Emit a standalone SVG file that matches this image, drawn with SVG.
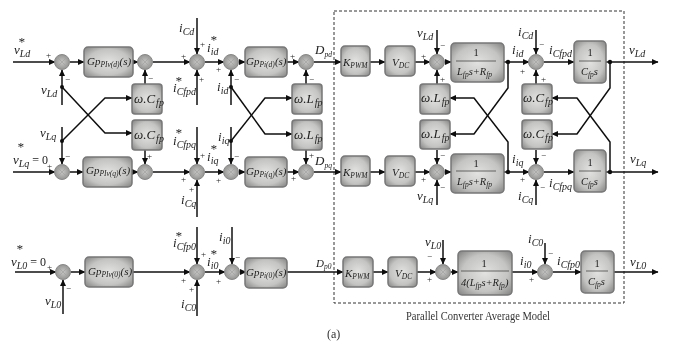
<svg xmlns="http://www.w3.org/2000/svg" width="673" height="341" viewBox="0 0 673 341">
<defs>
<radialGradient id="bg" cx="50%" cy="50%" r="70%"><stop offset="0" stop-color="#e2e2e0"/><stop offset="0.6" stop-color="#c4c4c2"/><stop offset="1" stop-color="#808080"/></radialGradient>
<radialGradient id="jg" cx="50%" cy="50%" r="60%"><stop offset="0" stop-color="#c8c8c6"/><stop offset="1" stop-color="#8a8a88"/></radialGradient>
<marker id="a" markerUnits="userSpaceOnUse" markerWidth="7" markerHeight="7" refX="6" refY="3.5" orient="auto"><path d="M0 0.5L6.5 3.5L0 6.5Z" fill="#111"/></marker>
<filter id="soft" x="-5%" y="-5%" width="110%" height="110%"><feGaussianBlur stdDeviation="0.35"/></filter>
</defs>
<style>
.b{fill:url(#bg);stroke:#777;stroke-width:1.5}
.j{fill:url(#jg);stroke:#888;stroke-width:1}
.x{stroke:#a0a0a0;stroke-width:.7;fill:none}
.c{fill:none;stroke:#111;stroke-width:1.5}
.fr{fill:none;stroke:#333;stroke-width:.7}
.ar{marker-end:url(#a)}
.d{fill:#111}
.r{stroke:#333;stroke-width:1;stroke-dasharray:3 2;fill:none}
text{font-family:"Liberation Serif",serif;fill:#222}
.t{font-size:13px;font-style:italic}
.u{font-size:10px;font-style:italic}
.g{font-size:11px;font-style:italic}
.h{font-size:7.5px;font-style:italic}
.p{font-size:9px}
.l{font-size:12px;fill:#333}
.f{font-size:10.5px;font-style:italic}
.n{font-style:normal}
.m{text-anchor:middle}
</style>
<rect width="673" height="341" fill="#fff"/>
<g filter="url(#soft)">
<rect class="r" x="334" y="11" width="290" height="292"/>
<g id="connectors">
<path class="c ar" d="M13 62H55"/><path class="c ar" d="M70 62H84"/><path class="c ar" d="M133 62H138"/><path class="c ar" d="M153 62H190"/><path class="c ar" d="M205 62H224"/><path class="c ar" d="M239 62H245"/><path class="c ar" d="M287 62H299"/><path class="c ar" d="M314 62H341"/><path class="c ar" d="M370 62H385"/><path class="c ar" d="M415 62H430"/><path class="c ar" d="M445 62H451"/><path class="c ar" d="M504 62H529"/><path class="c ar" d="M544 62H574"/><path class="c ar" d="M606 62H658"/>
<path class="c ar" d="M13 172H55"/><path class="c ar" d="M70 172H83"/><path class="c ar" d="M132 172H138"/><path class="c ar" d="M153 172H190"/><path class="c ar" d="M205 172H224"/><path class="c ar" d="M239 172H245"/><path class="c ar" d="M287 172H299"/><path class="c ar" d="M314 172H341"/><path class="c ar" d="M370 172H385"/><path class="c ar" d="M415 172H430"/><path class="c ar" d="M445 172H451"/><path class="c ar" d="M504 172H529"/><path class="c ar" d="M544 172H574"/><path class="c ar" d="M606 172H658"/>
<path class="c ar" d="M15 272H56"/><path class="c ar" d="M71 272H85"/><path class="c ar" d="M133 272H190"/><path class="c ar" d="M205 272H225"/><path class="c ar" d="M240 272H246"/><path class="c ar" d="M287 272H343"/><path class="c ar" d="M373 272H388"/><path class="c ar" d="M417 272H436"/><path class="c ar" d="M451 272H458"/><path class="c ar" d="M512 272H538"/><path class="c ar" d="M553 272H581"/><path class="c ar" d="M614 272H658"/>
<path class="c ar" d="M62 105V70"/><path class="c ar" d="M62 127V164"/><path class="c ar" d="M145 84V70"/><path class="c ar" d="M145 150V164"/>
<path class="c ar" d="M197 18V54"/><path class="c ar" d="M197 105V70"/><path class="c ar" d="M197 127V164"/><path class="c ar" d="M197 217V180"/>
<path class="c ar" d="M231 105V70"/><path class="c ar" d="M231 127V164"/><path class="c ar" d="M306 84V70"/><path class="c ar" d="M306 150V164"/>
<path class="c ar" d="M437 30V54"/><path class="c ar" d="M437 84V70"/><path class="c ar" d="M437 150V164"/><path class="c ar" d="M437 205V180"/>
<path class="c ar" d="M536 30V54"/><path class="c ar" d="M536 84V70"/><path class="c ar" d="M536 150V164"/><path class="c ar" d="M536 205V180"/>
<path class="c ar" d="M62 87L105 133H132"/><path class="c ar" d="M62 141L105 98H132"/>
<path class="c ar" d="M231 87L265 134H292"/><path class="c ar" d="M231 141L265 98H292"/>
<path class="c ar" d="M508 62V88L474 134H450"/><path class="c ar" d="M508 172V142L474 98H450"/>
<path class="c ar" d="M610 62V88L577 134H552"/><path class="c ar" d="M610 172V142L577 98H552"/>
<path class="c ar" d="M63 314V280"/><path class="c ar" d="M197 227V264"/><path class="c ar" d="M197 316V280"/><path class="c ar" d="M232 227V264"/><path class="c ar" d="M443 240V264"/><path class="c ar" d="M545 243V264"/>
<circle class="d" cx="62" cy="87" r="2"/><circle class="d" cx="62" cy="141" r="2"/><circle class="d" cx="231" cy="87" r="2"/><circle class="d" cx="231" cy="141" r="2"/><circle class="d" cx="508" cy="62" r="2.2"/><circle class="d" cx="508" cy="172" r="2.2"/><circle class="d" cx="610" cy="62" r="2.2"/><circle class="d" cx="610" cy="172" r="2.2"/>
</g>
<g id="sum-d1"><circle class="j" cx="62" cy="62" r="7.5"/><path class="x" d="M57 57L67 67M67 57L57 67"/></g>
<g id="sum-d2"><circle class="j" cx="145" cy="62" r="7.5"/><path class="x" d="M140 57L150 67M150 57L140 67"/></g>
<g id="sum-d3"><circle class="j" cx="197" cy="62" r="7.5"/><path class="x" d="M192 57L202 67M202 57L192 67"/></g>
<g id="sum-d4"><circle class="j" cx="231" cy="62" r="7.5"/><path class="x" d="M226 57L236 67M236 57L226 67"/></g>
<g id="sum-d5"><circle class="j" cx="306" cy="62" r="7.5"/><path class="x" d="M301 57L311 67M311 57L301 67"/></g>
<g id="sum-d6"><circle class="j" cx="437" cy="62" r="7.5"/><path class="x" d="M432 57L442 67M442 57L432 67"/></g>
<g id="sum-d7"><circle class="j" cx="536" cy="62" r="7.5"/><path class="x" d="M531 57L541 67M541 57L531 67"/></g>
<g id="sum-q1"><circle class="j" cx="62" cy="172" r="7.5"/><path class="x" d="M57 167L67 177M67 167L57 177"/></g>
<g id="sum-q2"><circle class="j" cx="145" cy="172" r="7.5"/><path class="x" d="M140 167L150 177M150 167L140 177"/></g>
<g id="sum-q3"><circle class="j" cx="197" cy="172" r="7.5"/><path class="x" d="M192 167L202 177M202 167L192 177"/></g>
<g id="sum-q4"><circle class="j" cx="231" cy="172" r="7.5"/><path class="x" d="M226 167L236 177M236 167L226 177"/></g>
<g id="sum-q5"><circle class="j" cx="306" cy="172" r="7.5"/><path class="x" d="M301 167L311 177M311 167L301 177"/></g>
<g id="sum-q6"><circle class="j" cx="437" cy="172" r="7.5"/><path class="x" d="M432 167L442 177M442 167L432 177"/></g>
<g id="sum-q7"><circle class="j" cx="536" cy="172" r="7.5"/><path class="x" d="M531 167L541 177M541 167L531 177"/></g>
<g id="sum-01"><circle class="j" cx="63" cy="272" r="7.5"/><path class="x" d="M58 267L68 277M68 267L58 277"/></g>
<g id="sum-02"><circle class="j" cx="197" cy="272" r="7.5"/><path class="x" d="M192 267L202 277M202 267L192 277"/></g>
<g id="sum-03"><circle class="j" cx="232" cy="272" r="7.5"/><path class="x" d="M227 267L237 277M237 267L227 277"/></g>
<g id="sum-04"><circle class="j" cx="443" cy="272" r="7.5"/><path class="x" d="M438 267L448 277M448 267L438 277"/></g>
<g id="sum-05"><circle class="j" cx="545" cy="272" r="7.5"/><path class="x" d="M540 267L550 277M550 267L540 277"/></g>

<g id="gpv-d"><rect class="b" x="84" y="47" width="49" height="30" rx="4"/><text class="g" x="87" y="65">Gp<tspan class="h" dy="2">PIv(d)</tspan><tspan dy="-2">(s)</tspan></text></g>
<g id="gpi-d"><rect class="b" x="245" y="47" width="42" height="30" rx="4"/><text class="g" x="246" y="65">Gp<tspan class="h" dy="2">Pi(d)</tspan><tspan dy="-2">(s)</tspan></text></g>
<g id="gpv-q"><rect class="b" x="83" y="157" width="49" height="30" rx="4"/><text class="g" x="86" y="174">Gp<tspan class="h" dy="2">PIv(q)</tspan><tspan dy="-2">(s)</tspan></text></g>
<g id="gpi-q"><rect class="b" x="245" y="157" width="42" height="30" rx="4"/><text class="g" x="246" y="175">Gp<tspan class="h" dy="2">Pi(q)</tspan><tspan dy="-2">(s)</tspan></text></g>
<g id="gpv-0"><rect class="b" x="85" y="257" width="48" height="30" rx="4"/><text class="g" x="88" y="275">Gp<tspan class="h" dy="2">PIv(0)</tspan><tspan dy="-2">(s)</tspan></text></g>
<g id="gpi-0"><rect class="b" x="245" y="258" width="42" height="30" rx="4"/><text class="g" x="246" y="276">Gp<tspan class="h" dy="2">Pi(0)</tspan><tspan dy="-2">(s)</tspan></text></g>

<g id="wc-1"><rect class="b" x="132" y="84" width="30" height="30" rx="3"/><text class="t" x="134" y="103">ω.C<tspan class="u" dx="1" dy="3">fp</tspan></text></g>
<g id="wc-2"><rect class="b" x="132" y="120" width="30" height="30" rx="3"/><text class="t" x="134" y="139">ω.C<tspan class="u" dx="1" dy="3">fp</tspan></text></g>
<g id="wl-1"><rect class="b" x="292" y="84" width="30" height="30" rx="3"/><text class="t" x="294" y="103">ω.L<tspan class="u" dx="1" dy="3">fp</tspan></text></g>
<g id="wl-2"><rect class="b" x="292" y="120" width="30" height="30" rx="3"/><text class="t" x="294" y="139">ω.L<tspan class="u" dx="1" dy="3">fp</tspan></text></g>
<g id="wl-3"><rect class="b" x="420" y="84" width="30" height="30" rx="3"/><text class="t" x="421" y="102">ω.L<tspan class="u" dx="1" dy="3">fp</tspan></text></g>
<g id="wl-4"><rect class="b" x="420" y="120" width="30" height="29" rx="3"/><text class="t" x="421" y="138">ω.L<tspan class="u" dx="1" dy="3">fp</tspan></text></g>
<g id="wc-3"><rect class="b" x="522" y="84" width="30" height="30" rx="3"/><text class="t" x="523" y="102">ω.C<tspan class="u" dx="1" dy="3">fp</tspan></text></g>
<g id="wc-4"><rect class="b" x="522" y="120" width="30" height="29" rx="3"/><text class="t" x="523" y="138">ω.C<tspan class="u" dx="1" dy="3">fp</tspan></text></g>

<g id="kpwm-d"><rect class="b" x="341" y="46" width="29" height="30" rx="4"/><text class="g" x="343" y="66">K<tspan class="h" dy="2">PWM</tspan></text></g>
<g id="kpwm-q"><rect class="b" x="341" y="156" width="29" height="30" rx="4"/><text class="g" x="343" y="176">K<tspan class="h" dy="2">PWM</tspan></text></g>
<g id="kpwm-0"><rect class="b" x="343" y="257" width="30" height="30" rx="4"/><text class="g" x="345" y="277">K<tspan class="h" dy="2">PWM</tspan></text></g>
<g id="vdc-d"><rect class="b" x="385" y="46" width="30" height="30" rx="4"/><text class="g" x="392" y="66">V<tspan class="h" dy="2">DC</tspan></text></g>
<g id="vdc-q"><rect class="b" x="385" y="156" width="30" height="30" rx="4"/><text class="g" x="392" y="176">V<tspan class="h" dy="2">DC</tspan></text></g>
<g id="vdc-0"><rect class="b" x="388" y="257" width="29" height="30" rx="4"/><text class="g" x="395" y="277">V<tspan class="h" dy="2">DC</tspan></text></g>

<g id="plant-d"><rect class="b" x="451" y="43" width="53" height="39" rx="4"/><path class="fr" d="M456 61H496"/><text class="f m n" x="476" y="56">1</text><text class="f" x="457" y="75">L<tspan class="h" dy="2">fp</tspan><tspan dy="-2">s+R</tspan><tspan class="h" dy="2">fp</tspan></text></g>
<g id="plant-q"><rect class="b" x="451" y="154" width="53" height="39" rx="4"/><path class="fr" d="M456 171H496"/><text class="f m n" x="476" y="167">1</text><text class="f" x="457" y="185">L<tspan class="h" dy="2">fp</tspan><tspan dy="-2">s+R</tspan><tspan class="h" dy="2">fp</tspan></text></g>
<g id="plant-0"><rect class="b" x="458" y="251" width="54" height="44" rx="4"/><path class="fr" d="M461 271H509"/><text class="f m n" x="484" y="267">1</text><text class="f" x="461" y="286">4(L<tspan class="h" dy="2">fp</tspan><tspan dy="-2">s+R</tspan><tspan class="h" dy="2">fp</tspan><tspan dy="-2">)</tspan></text></g>
<g id="cap-d"><rect class="b" x="574" y="41" width="32" height="42" rx="4"/><path class="fr" d="M579 61H601"/><text class="f m n" x="590" y="56">1</text><text class="f" x="581" y="75">C<tspan class="h" dy="2">fp</tspan><tspan dy="-2">s</tspan></text></g>
<g id="cap-q"><rect class="b" x="574" y="150" width="32" height="42" rx="4"/><path class="fr" d="M579 171H601"/><text class="f m n" x="590" y="166">1</text><text class="f" x="581" y="185">C<tspan class="h" dy="2">fp</tspan><tspan dy="-2">s</tspan></text></g>
<g id="cap-0"><rect class="b" x="581" y="251" width="33" height="42" rx="4"/><path class="fr" d="M586 271H608"/><text class="f m n" x="597" y="267">1</text><text class="f" x="588" y="285">C<tspan class="h" dy="2">fp</tspan><tspan dy="-2">s</tspan></text></g>

<g id="labels">
<text class="t" x="14" y="54">v<tspan class="u" dy="3">Ld</tspan></text><text class="t" x="18" y="46">*</text>
<text class="t" x="13" y="164">v<tspan class="u" dy="3">Lq</tspan><tspan class="n" dy="-3" font-size="12"> = 0</tspan></text><text class="t" x="17" y="151">*</text>
<text class="t" x="11" y="266">v<tspan class="u" dy="3">L0</tspan><tspan class="n" dy="-3" font-size="12"> = 0</tspan></text><text class="t" x="16" y="253">*</text>
<text class="t" x="41" y="94">v<tspan class="u" dy="3">Ld</tspan></text><text class="t" x="40" y="137">v<tspan class="u" dy="3">Lq</tspan></text><text class="t" x="45" y="305">v<tspan class="u" dy="3">L0</tspan></text>
<text class="t" x="179" y="32">i<tspan class="u" dy="3">Cd</tspan></text>
<text class="t" x="173" y="92">i<tspan class="u" dy="3">Cfpd</tspan></text><text class="t" x="175" y="85">*</text>
<text class="t" x="173" y="145">i<tspan class="u" dy="3">Cfpq</tspan></text><text class="t" x="175" y="137">*</text>
<text class="t" x="181" y="204">i<tspan class="u" dy="3">Cq</tspan></text>
<text class="t" x="173" y="247">i<tspan class="u" dy="3">Cfp0</tspan></text><text class="t" x="175" y="240">*</text>
<text class="t" x="181" y="308">i<tspan class="u" dy="3">C0</tspan></text>
<text class="t" x="207" y="52">i<tspan class="u" dy="3">id</tspan></text><text class="t" x="210" y="44">*</text>
<text class="t" x="217" y="91">i<tspan class="u" dy="3">id</tspan></text>
<text class="t" x="207" y="161">i<tspan class="u" dy="3">iq</tspan></text><text class="t" x="210" y="153">*</text>
<text class="t" x="218" y="141">i<tspan class="u" dy="3">iq</tspan></text>
<text class="t" x="207" y="266">i<tspan class="u" dy="3">i0</tspan></text><text class="t" x="210" y="258">*</text>
<text class="t" x="219" y="241">i<tspan class="u" dy="3">i0</tspan></text>
<text class="t" x="315" y="54">D<tspan class="h" dy="3">pd</tspan></text><text class="t" x="315" y="165">D<tspan class="h" dy="3">pq</tspan></text><text class="g" x="316" y="267">D<tspan class="h" dy="2">p0</tspan></text>
<text class="t" x="417" y="37">v<tspan class="u" dy="3">Ld</tspan></text><text class="t" x="417" y="200">v<tspan class="u" dy="3">Lq</tspan></text><text class="t" x="425" y="246">v<tspan class="u" dy="3">L0</tspan></text>
<text class="t" x="518" y="36">i<tspan class="u" dy="3">Cd</tspan></text><text class="t" x="518" y="200">i<tspan class="u" dy="3">Cq</tspan></text><text class="t" x="528" y="243">i<tspan class="u" dy="3">C0</tspan></text>
<text class="t" x="512" y="54">i<tspan class="u" dy="3">id</tspan></text><text class="t" x="512" y="163">i<tspan class="u" dy="3">iq</tspan></text><text class="t" x="520" y="265">i<tspan class="u" dy="3">i0</tspan></text>
<text class="t" x="549" y="54">i<tspan class="u" dy="3">Cfpd</tspan></text><text class="t" x="549" y="187">i<tspan class="u" dy="3">Cfpq</tspan></text><text class="t" x="557" y="265">i<tspan class="u" dy="3">Cfp0</tspan></text>
<text class="t" x="629" y="54">v<tspan class="u" dy="3">Ld</tspan></text><text class="t" x="630" y="163">v<tspan class="u" dy="3">Lq</tspan></text><text class="t" x="630" y="266">v<tspan class="u" dy="3">L0</tspan></text>
<text class="l" x="406" y="320" textLength="144" lengthAdjust="spacingAndGlyphs">Parallel Converter Average Model</text>
<text class="l" x="327" y="338" font-size="11">(a)</text>
</g>
<g id="signs">
<text class="p" x="46" y="58">+</text><text class="p" x="65" y="82">−</text><text class="p" x="65" y="159">−</text><text class="p" x="47" y="169">+</text><text class="p" x="148" y="81">−</text><text class="p" x="147" y="159">+</text>
<text class="p" x="181" y="59">+</text><text class="p" x="200" y="47">+</text><text class="p" x="199" y="82">+</text><text class="p" x="200" y="158">+</text><text class="p" x="181" y="182">+</text><text class="p" x="189" y="192">+</text>
<text class="p" x="216" y="72">+</text><text class="p" x="234" y="82">−</text><text class="p" x="234" y="159">−</text><text class="p" x="216" y="183">+</text>
<text class="p" x="290" y="59">+</text><text class="p" x="309" y="82">−</text><text class="p" x="309" y="158">+</text><text class="p" x="291" y="181">+</text>
<text class="p" x="421" y="59">+</text><text class="p" x="440" y="48">−</text><text class="p" x="440" y="82">+</text><text class="p" x="440" y="158">−</text><text class="p" x="421" y="182">+</text><text class="p" x="440" y="190">−</text>
<text class="p" x="520" y="74">+</text><text class="p" x="539" y="47">−</text><text class="p" x="541" y="82">+</text><text class="p" x="541" y="158">−</text><text class="p" x="520" y="182">+</text><text class="p" x="540" y="190">−</text>
<text class="p" x="47" y="270">+</text><text class="p" x="66" y="291">−</text><text class="p" x="181" y="283">+</text><text class="p" x="201" y="257">+</text><text class="p" x="189" y="292">+</text><text class="p" x="216" y="284">+</text><text class="p" x="235" y="260">−</text>
<text class="p" x="427" y="259">−</text><text class="p" x="427" y="282">+</text><text class="p" x="529" y="282">+</text><text class="p" x="548" y="256">−</text>
</g>
</g>
</svg>
